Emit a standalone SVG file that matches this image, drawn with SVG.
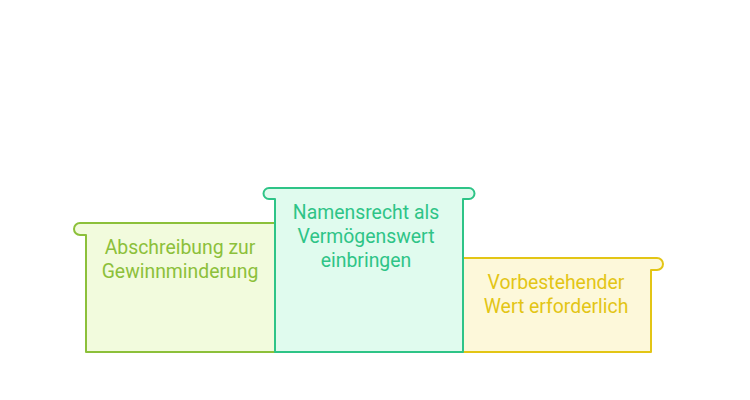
<svg xmlns="http://www.w3.org/2000/svg" width="750" height="400" viewBox="0 0 750 400">
<style>
text{font-family:Roboto,"Liberation Sans",sans-serif;font-size:19.4px;text-anchor:middle}
path{stroke-width:2;stroke-linejoin:round}
</style>
<rect width="750" height="400" fill="#fff"/>
<g id="left">
<path d="M275 223 L80 223 A6 6 0 0 0 80 235 L86 235 L86 352 L275 352 Z" fill="#f2fbdd" stroke="#8cc03a"/>
<text x="180" y="254" fill="#8cc03a">Abschreibung zur</text>
<text x="180" y="278" fill="#8cc03a">Gewinnminderung</text>
</g>
<g id="right">
<path d="M463 258 L657 258 A6 6 0 0 1 657 270 L651 270 L651 352 L463 352 Z" fill="#fdf8da" stroke="#e3c515"/>
<text x="556" y="289" fill="#e3c515">Vorbestehender</text>
<text x="556" y="313" fill="#e3c515">Wert erforderlich</text>
</g>
<g id="center">
<path d="M275 352 L275 199 L269 199 A5.5 5.5 0 0 1 269 188 L469 188 A5.5 5.5 0 0 1 469 199 L463 199 L463 352 Z" fill="#e0fbee" stroke="#2ec487"/>
<text x="366" y="219" fill="#2ec487">Namensrecht als</text>
<text x="366" y="243" fill="#2ec487">Vermögenswert</text>
<text x="366" y="267" fill="#2ec487">einbringen</text>
</g>
<g id="connectors"/>
</svg>
